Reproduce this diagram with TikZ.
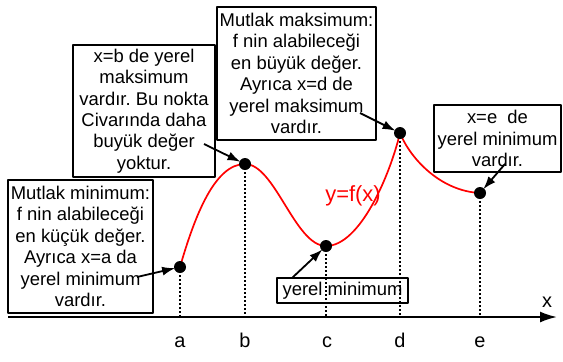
\documentclass[tikz,border=0pt]{standalone}
\usepackage{fontspec}
\setmainfont{Liberation Sans}
\usetikzlibrary{arrows.meta}
\frenchspacing

\tikzset{
  infobox/.style={draw,line width=1.8bp,inner sep=0pt,align=center,
    font=\fontsize{18.5}{21.5}\selectfont},
  pointer/.style={-{Latex[length=13bp,width=9bp]},line width=1.8bp,shorten >=5bp},
  guide/.style={line width=2bp,dash pattern=on 2bp off 2bp},
  ticklabel/.style={anchor=base,font=\fontsize{20}{22}\selectfont}
}

\begin{document}
\begin{tikzpicture}[x=1bp,y=-1bp,line join=round]
  \useasboundingbox (0,0) rectangle (563,361);
  \coordinate (pa) at (180,267);
  \coordinate (pb) at (245,164);
  \coordinate (pc) at (326,246);
  \coordinate (pd) at (400,133);
  \coordinate (pe) at (480,193);
  \coordinate (O) at (8,317);
  \coordinate (X) at (557,317);
  % curve
  \draw[red,line width=1.7bp] (pa) .. controls (195,215) and (215,164) .. (pb)
    .. controls (275,164) and (295,246) .. (pc)
    .. controls (360,246) and (390,175) .. (pd)
    .. controls (410,158) and (440,191) .. (pe);
  \node[red,font=\fontsize{22}{24}\selectfont] (fx) at (353,196) {y=f(x)};
  % guides
  \foreach \p in {pa,pb,pc,pd,pe}
    \draw[guide] (\p) -- (\p |- O);
  \draw[-{Latex[length=17bp,width=11bp]},line width=2bp] (O) -- (X);
  \node[ticklabel] (lx) at (547,307) {x};
  \node[ticklabel] (la) at (180,347) {a};
  \node[ticklabel] (lb) at (245,347) {b};
  \node[ticklabel] (lc) at (327,347) {c};
  \node[ticklabel] (ld) at (400,347) {d};
  \node[ticklabel] (le) at (480,347) {e};
  \foreach \p in {pa,pb,pc,pd,pe}
    \fill (\p) circle (6bp);
  % boxes
  \node[infobox,minimum width=145bp,minimum height=133bp] (mutlakmin) at (80.5,246.5)
    {Mutlak minimum:\\f nin alabileceği\\en küçük değer.\\Ayrıca x=a da\\yerel minimum\\vardır.};
  \node[infobox,minimum width=142bp,minimum height=132bp] (yerelmaks) at (144,111)
    {x=b de yerel\\maksimum\\vardır. Bu nokta\\Civarında daha\\buyük değer\\yoktur.};
  \node[infobox,minimum width=159bp,minimum height=133bp] (mutlakmaks) at (296.5,73.5)
    {Mutlak maksimum:\\f nin alabileceği\\en büyük değer.\\Ayrıca x=d de\\yerel maksimum\\vardır.};
  \node[infobox,minimum width=127bp,minimum height=67bp] (yerelmine) at (497.5,138.5)
    {x=e\ \ de\\yerel minimum\\vardır.};
  \node[infobox,minimum width=131bp,minimum height=25bp] (yerelminc) at (342.5,290.5)
    {yerel minimum};
  % pointers
  \coordinate (sa) at (137,277);
  \coordinate (sb) at (204,144);
  \coordinate (sc) at (292,278);
  \coordinate (sd) at (360,113);
  \coordinate (se) at (505,164);
  \draw[pointer] (sa) -- (pa);
  \draw[pointer] (sb) -- (pb);
  \draw[pointer] (sc) -- (pc);
  \draw[pointer] (sd) -- (pd);
  \draw[pointer] (se) -- (pe);
\end{tikzpicture}
\end{document}
